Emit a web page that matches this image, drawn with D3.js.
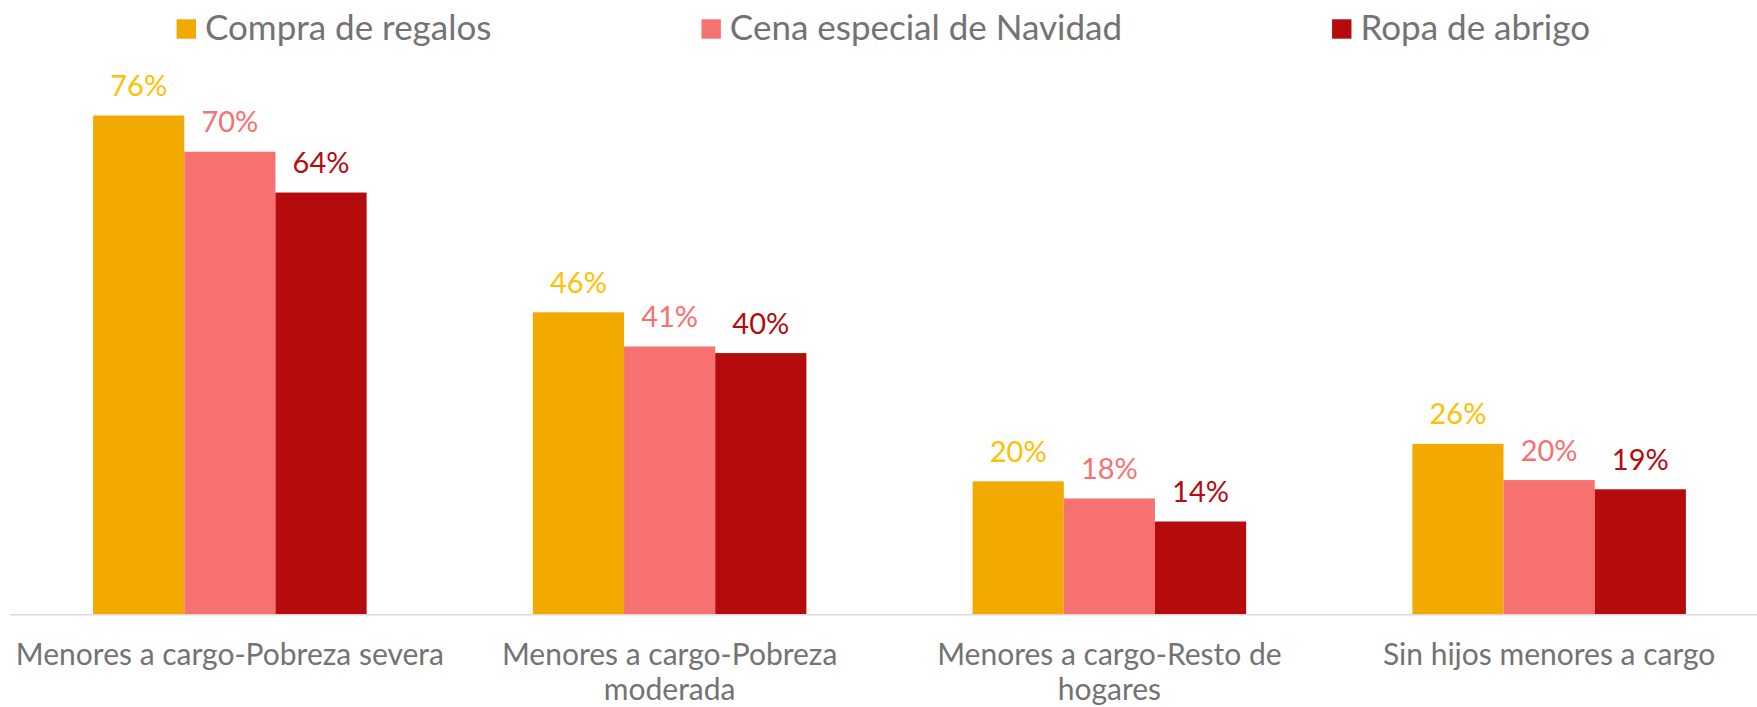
<!DOCTYPE html>
<html>
<head>
<meta charset="utf-8">
<script src="https://cdn.jsdelivr.net/npm/d3@7/dist/d3.min.js"></script>
<style>
  html, body { margin: 0; padding: 0; background: #ffffff; }
  svg { display: block; }
  text { font-family: Lato, "Open Sans", "DejaVu Sans", sans-serif; }
</style>
</head>
<body>
<svg id="chart" width="1757" height="707"></svg>
<script>
// ---- data ----
const categories = [
  "Menores a cargo-Pobreza severa",
  "Menores a cargo-Pobreza moderada",
  "Menores a cargo-Resto de hogares",
  "Sin hijos menores a cargo"
];
const seriesNames = ["Compra de regalos", "Cena especial de Navidad", "Ropa de abrigo"];
const compraRegalos = [0.758, 0.459, 0.202, 0.259];
const cenaNavidad   = [0.703, 0.407, 0.176, 0.204];
const ropaAbrigo    = [0.641, 0.397, 0.141, 0.190];
const seriesValues = [compraRegalos, cenaNavidad, ropaAbrigo];

const barColors   = ["#F2A900", "#F77171", "#B50B0D"];
const labelColors = ["#FFC000", "#F77171", "#B50B0D"];
const textColor = "#737373";

// ---- layout ----
const svg = d3.select("#chart");

const x0 = d3.scaleBand()
  .domain(categories)
  .range([10, 1769])
  .paddingInner(0.378)
  .paddingOuter(0.189);

const x1 = d3.scaleBand()
  .domain(seriesNames)
  .range([0, x0.bandwidth()])
  .padding(0);

const y = d3.scaleLinear()
  .domain([0, 1])
  .range([614.3, 614.3 - 658]);

const fmt = d3.format(".0%");

// bars
const groups = svg.append("g").selectAll("g")
  .data(categories)
  .join("g")
  .attr("transform", d => `translate(${x0(d)},0)`);

groups.selectAll("rect")
  .data((c, ci) => seriesNames.map((s, si) => ({ s, si, v: seriesValues[si][ci] })))
  .join("rect")
  .attr("x", d => x1(d.s))
  .attr("width", x1.bandwidth())
  .attr("y", d => y(d.v))
  .attr("height", d => y(0) - y(d.v))
  .attr("fill", d => barColors[d.si]);

groups.selectAll("text.val")
  .data((c, ci) => seriesNames.map((s, si) => ({ s, si, v: seriesValues[si][ci] })))
  .join("text")
  .attr("class", "val")
  .attr("x", d => x1(d.s) + x1.bandwidth() / 2)
  .attr("y", d => y(d.v) - 19.5)
  .attr("text-anchor", "middle")
  .attr("font-size", 29)
  .attr("fill", d => labelColors[d.si])
  .text(d => fmt(d.v));

// baseline axis
const xAxis = d3.axisBottom(x0).tickSize(0).tickPadding(0);
const axisG = svg.append("g")
  .attr("transform", `translate(0,${y(0)})`)
  .call(xAxis);
axisG.select(".domain")
  .attr("stroke", "#D9D9D9")
  .attr("stroke-width", 1.6);

axisG.selectAll(".tick text")
  .attr("font-size", 30)
  .attr("font-family", "Lato, 'Open Sans', sans-serif")
  .attr("fill", textColor)
  .attr("dy", null)
  .attr("y", 50.7)
  .each(function(d) {
    const t = d3.select(this);
    const words = d.split(" ");
    const maxW = x0.step() * 0.99;
    t.text(null);
    let line = [];
    let tspan = t.append("tspan").attr("x", 0).attr("dy", 0);
    for (const w of words) {
      line.push(w);
      tspan.text(line.join(" "));
      if (tspan.node().getComputedTextLength() > maxW && line.length > 1) {
        line.pop();
        tspan.text(line.join(" "));
        line = [w];
        tspan = t.append("tspan").attr("x", 0).attr("dy", 35).text(w);
      }
    }
  });

// legend
const legendFont = 35;
const legend = svg.append("g");
const items = legend.selectAll("g")
  .data(seriesNames)
  .join("g");
items.append("rect")
  .attr("width", 19.4)
  .attr("height", 19.4)
  .attr("y", 19.3)
  .attr("fill", (d, i) => barColors[i]);
items.append("text")
  .attr("x", 28.4)
  .attr("y", 39.8)
  .attr("font-size", legendFont)
  .attr("fill", textColor)
  .text(d => d);
const widths = [];
items.each(function() { widths.push(this.getBBox().width); });
const gap = 210;
const total = d3.sum(widths) + gap * (widths.length - 1);
let cx = 883.3 - total / 2;
items.attr("transform", (d, i) => {
  const tx = cx;
  cx += widths[i] + gap;
  return `translate(${tx},0)`;
});
</script>
</body>
</html>
